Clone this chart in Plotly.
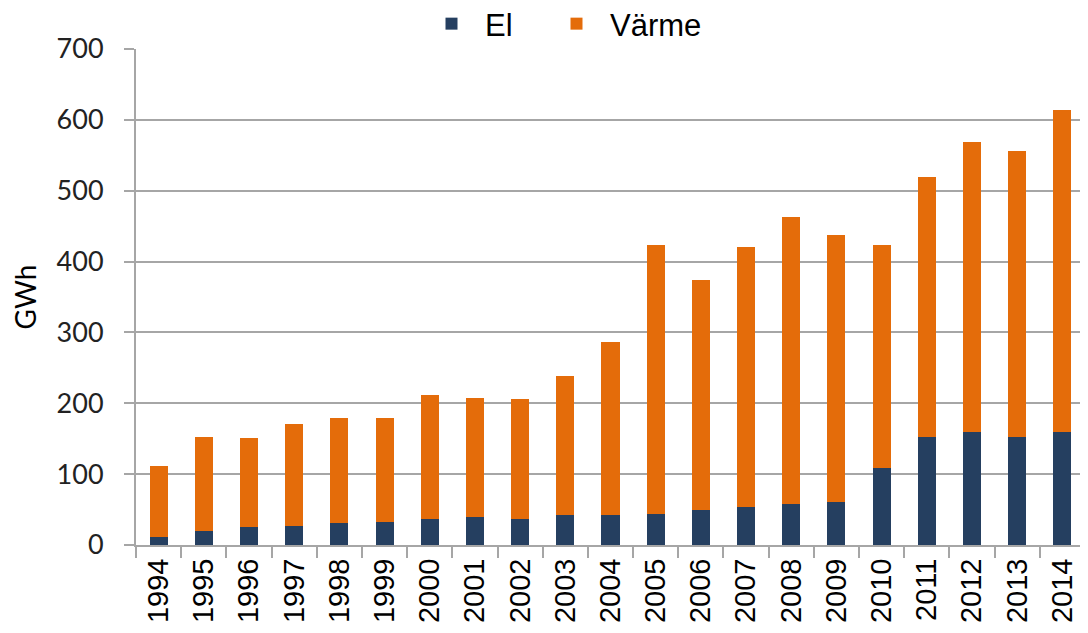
import plotly.graph_objects as go

years = [str(y) for y in range(1994, 2015)]
el = [12, 20, 25, 27, 31, 33, 37, 40, 37, 42, 42, 44, 50, 54, 58, 60, 108, 153, 160, 153, 160]
total = [112, 153, 151, 171, 179, 179, 211, 208, 206, 239, 287, 424, 374, 420, 463, 438, 423, 519, 569, 556, 614]
varme = [t - e for t, e in zip(total, el)]

W, H = 1080, 625

fig = go.Figure()
fig.add_trace(go.Bar(x=years, y=el, name="El", legend="legend",
                     marker=dict(color="#253F60", line=dict(width=0))))
fig.add_trace(go.Bar(x=years, y=varme, name="Värme", legend="legend2",
                     marker=dict(color="#E46C0A", line=dict(width=0))))

grid = "#A6A6A6"
leg_common = dict(orientation="h", xref="container", yref="container", xanchor="left",
                  yanchor="middle", y=1 - 16 / H, bgcolor="white", bordercolor="white",
                  borderwidth=6, itemwidth=57,
                  font=dict(family="Liberation Sans", size=31, color="black"))
fig.update_layout(
    barmode="stack",
    bargap=0.6,
    width=W, height=H,
    margin=dict(l=128, r=3, t=41, b=88, autoexpand=False),
    plot_bgcolor="white", paper_bgcolor="white",
    showlegend=True,
    legend=dict(x=(443 - 39) / W, **leg_common),
    legend2=dict(x=(568 - 39) / W, **leg_common),
    xaxis=dict(type="category", showline=True, linecolor=grid, linewidth=2, automargin=False,
               ticks="outside", tickson="boundaries", ticklen=11, tickcolor=grid, tickwidth=2,
               tickangle=-90, tickfont=dict(family="Liberation Sans", size=29, color="black"),
               showgrid=False),
    yaxis=dict(range=[0, 700], dtick=100, showline=True, linecolor=grid, linewidth=2, automargin=False,
               ticks="outside", ticklen=10, tickcolor=grid, tickwidth=2, ticklabelstandoff=15,
               showgrid=True, gridcolor=grid, gridwidth=2, zeroline=False,
               tickfont=dict(family="Lato", size=27, color="#222222"),
               title=dict(text="GWh", font=dict(family="Lato", size=28, color="black"), standoff=12)),
)
fig.write_html("out.html")
